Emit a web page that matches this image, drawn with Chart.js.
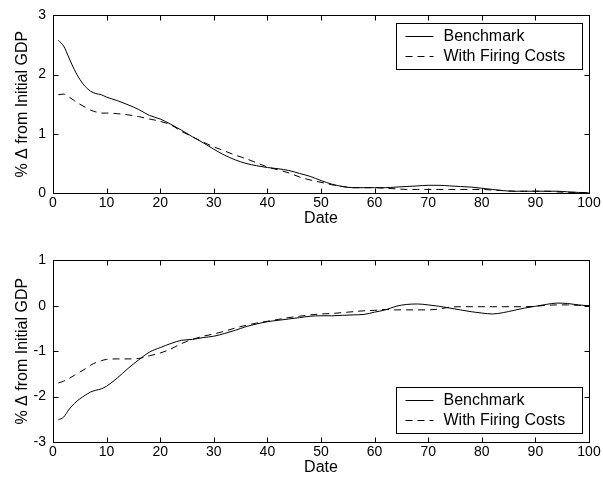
<!DOCTYPE html>
<html>
<head>
<meta charset="utf-8">
<script src="https://cdn.jsdelivr.net/npm/chart.js@4.4.1/dist/chart.umd.min.js"></script>
<style>
  html, body { margin: 0; padding: 0; background: #fff; }
  #wrap { position: relative; width: 603px; height: 489px; }
  canvas { position: absolute; left: 0; }
  #topChart { top: 0; }
  #bottomChart { top: 245px; }
</style>
</head>
<body>
<div id="wrap">
  <canvas id="topChart" width="603" height="245"></canvas>
  <canvas id="bottomChart" width="603" height="244"></canvas>
</div>
<script>
const dates = [1, 2, 3, 4, 5, 6, 7, 8, 9, 10,
  12, 14, 16, 18, 20, 22, 24, 26, 28, 30,
  32, 34, 36, 38, 40, 42, 44, 46, 48, 50,
  52, 54, 56, 58, 60, 62, 64, 66, 68, 70,
  72, 74, 76, 78, 80, 82, 84, 86, 88, 90,
  92, 94, 96, 98, 100];

// Upper panel
const topBenchmark = [2.58, 2.48, 2.28, 2.08, 1.92, 1.80, 1.72, 1.68, 1.66, 1.62,
  1.56, 1.49, 1.41, 1.31, 1.25, 1.16, 1.06, 0.95, 0.85, 0.74,
  0.64, 0.56, 0.50, 0.46, 0.43, 0.41, 0.38, 0.33, 0.28, 0.21,
  0.15, 0.11, 0.09, 0.09, 0.09, 0.09, 0.10, 0.11, 0.12, 0.13,
  0.13, 0.12, 0.11, 0.10, 0.08, 0.06, 0.04, 0.03, 0.03, 0.03,
  0.03, 0.03, 0.02, 0.01, 0.00];
const topFiring = [1.66, 1.67, 1.62, 1.56, 1.50, 1.45, 1.40, 1.37, 1.35, 1.35,
  1.34, 1.32, 1.29, 1.25, 1.21, 1.15, 1.04, 0.95, 0.86, 0.78,
  0.71, 0.64, 0.58, 0.51, 0.44, 0.39, 0.34, 0.27, 0.22, 0.18,
  0.14, 0.11, 0.09, 0.09, 0.09, 0.08, 0.07, 0.06, 0.06, 0.06,
  0.06, 0.06, 0.06, 0.06, 0.06, 0.05, 0.04, 0.03, 0.03, 0.03,
  0.03, 0.02, 0.01, 0.01, 0.00];

// Lower panel
const bottomBenchmark = [-2.51, -2.45, -2.28, -2.15, -2.05, -1.97, -1.90, -1.86, -1.83, -1.77,
  -1.59, -1.38, -1.19, -1.02, -0.92, -0.83, -0.76, -0.74, -0.70, -0.67,
  -0.61, -0.54, -0.46, -0.40, -0.35, -0.32, -0.29, -0.26, -0.23, -0.22,
  -0.22, -0.21, -0.20, -0.19, -0.14, -0.09, -0.01, 0.03, 0.04, 0.02,
  -0.01, -0.05, -0.09, -0.13, -0.16, -0.18, -0.15, -0.10, -0.05, -0.01,
  0.03, 0.06, 0.05, 0.02, 0.00];
const bottomFiring = [-1.70, -1.66, -1.60, -1.53, -1.46, -1.39, -1.31, -1.25, -1.21, -1.18,
  -1.17, -1.17, -1.16, -1.10, -1.04, -0.95, -0.83, -0.74, -0.67, -0.62,
  -0.56, -0.49, -0.43, -0.38, -0.34, -0.30, -0.26, -0.23, -0.20, -0.18,
  -0.17, -0.15, -0.13, -0.11, -0.10, -0.08, -0.09, -0.09, -0.09, -0.09,
  -0.07, -0.03, -0.02, -0.02, -0.02, -0.02, -0.02, -0.02, -0.02, -0.01,
  0.01, 0.02, 0.02, 0.01, 0.00];

const seriesLabels = ['Benchmark', 'With Firing Costs'];
const xLabel = 'Date';
const yLabel = '% \u0394 from Initial GDP';

const FONT = "'Liberation Sans', Arial, sans-serif";
const DASH = [7, 5];

// Box, inward ticks on all four sides and a boxed legend, MATLAB style
const framePlugin = {
  id: 'frame',
  afterDraw(chart, args, opts) {
    const { ctx, chartArea: a, scales: { x, y } } = chart;
    const L = Math.round(a.left) + 0.5, R = Math.round(a.right) + 0.5;
    const T = Math.round(a.top) + 0.5, B = Math.round(a.bottom) + 0.5;
    ctx.save();
    ctx.strokeStyle = '#000';
    ctx.lineWidth = 1;
    ctx.setLineDash([]);
    ctx.strokeRect(L, T, R - L, B - T);
    ctx.beginPath();
    x.ticks.forEach(t => {
      const px = Math.round(x.getPixelForValue(t.value)) + 0.5;
      ctx.moveTo(px, B); ctx.lineTo(px, B - 5);
      ctx.moveTo(px, T); ctx.lineTo(px, T + 5);
    });
    y.ticks.forEach(t => {
      const py = Math.round(y.getPixelForValue(t.value)) + 0.5;
      ctx.moveTo(L, py); ctx.lineTo(L + 5, py);
      ctx.moveTo(R, py); ctx.lineTo(R - 5, py);
    });
    ctx.stroke();

    // legend
    const w = 186, h = 46;
    const lx = Math.round(a.right) - 7 - w + 0.5;
    const ly = opts.legend === 'top' ? Math.round(a.top) + 8 + 0.5 : Math.round(a.bottom) - 9 - h + 0.5;
    ctx.fillStyle = '#fff';
    ctx.fillRect(lx, ly, w, h);
    ctx.strokeRect(lx, ly, w, h);
    ctx.font = '16px ' + FONT;
    ctx.textBaseline = 'middle';
    ctx.fillStyle = '#000';
    chart.data.datasets.forEach((ds, i) => {
      const ry = Math.round(ly + 12 + i * 20) + 0.5;
      ctx.setLineDash(ds.borderDash || []);
      ctx.beginPath();
      ctx.moveTo(lx + 9, ry); ctx.lineTo(lx + 37, ry);
      ctx.stroke();
      ctx.fillText(ds.label, lx + 47, ry);
    });
    ctx.restore();
  }
};

function makeChart(id, benchmark, firing, yMin, yMax, g) {
  const points = vals => dates.map((d, i) => ({ x: d, y: vals[i] }));
  return new Chart(document.getElementById(id), {
    type: 'line',
    data: {
      datasets: [
        {
          label: seriesLabels[0],
          data: points(benchmark),
          borderColor: '#000',
          borderWidth: 1,
          pointRadius: 0,
          cubicInterpolationMode: 'monotone',
          fill: false
        },
        {
          label: seriesLabels[1],
          data: points(firing),
          borderColor: '#000',
          borderWidth: 1,
          borderDash: DASH,
          pointRadius: 0,
          cubicInterpolationMode: 'monotone',
          fill: false
        }
      ]
    },
    options: {
      responsive: false,
      animation: false,
      devicePixelRatio: 1,
      layout: { padding: { top: g.top, right: 14, left: 0, bottom: 0 } },
      plugins: {
        legend: { display: false },
        tooltip: { enabled: false },
        frame: { legend: g.legend }
      },
      scales: {
        x: {
          type: 'linear',
          min: 0,
          max: 100,
          grid: { display: false, drawTicks: false },
          border: { display: false },
          ticks: {
            stepSize: 10,
            color: '#000',
            padding: g.xTickPad,
            maxRotation: 0,
            font: { family: FONT, size: 14 }
          },
          title: {
            display: true,
            text: xLabel,
            color: '#000',
            padding: { top: 0, bottom: g.titlePad },
            font: { family: FONT, size: 16 }
          },
          afterFit(s) { s.height = g.xHeight; }
        },
        y: {
          min: yMin,
          max: yMax,
          grid: { display: false, drawTicks: false },
          border: { display: false },
          ticks: {
            stepSize: 1,
            color: '#000',
            padding: 7,
            font: { family: FONT, size: 14 }
          },
          title: {
            display: true,
            text: yLabel,
            color: '#000',
            padding: { top: 13, bottom: 0 },
            font: { family: FONT, size: 16 }
          },
          afterFit(s) { s.width = 53; }
        }
      }
    },
    plugins: [framePlugin]
  });
}

makeChart('topChart', topBenchmark, topFiring, 0, 3,
  { top: 13, xHeight: 52, xTickPad: 2, titlePad: 17, legend: 'top' });
makeChart('bottomChart', bottomBenchmark, bottomFiring, -3, 1,
  { top: 15, xHeight: 47, xTickPad: 2, titlePad: 12, legend: 'bottom' });
</script>
</body>
</html>
